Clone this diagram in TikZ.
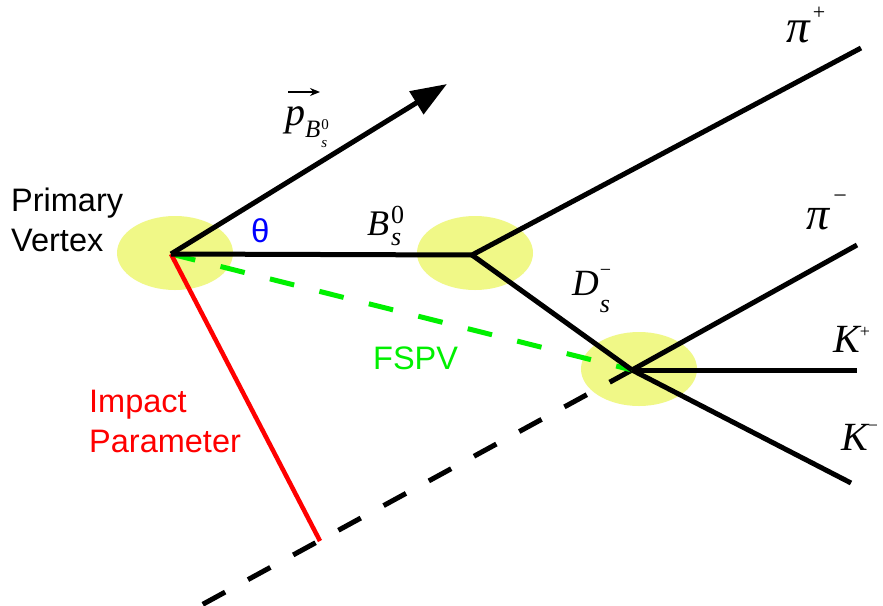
\documentclass[tikz,border=0pt]{standalone}
\usepackage{fontspec}
\setmainfont{Liberation Sans}
\newfontfamily\tms{Liberation Serif}
\usetikzlibrary{arrows.meta,shapes.geometric}
\newcommand\fsz[1]{\fontsize{#1}{#1}\selectfont}
\definecolor{vtx}{RGB}{240,248,135}
\definecolor{fgreen}{RGB}{0,240,0}
\begin{document}
\begin{tikzpicture}[x=1pt,y=-1pt,
  blob/.style={ellipse, fill=vtx, draw=none, inner sep=0pt, minimum width=116pt, minimum height=74pt},
  track/.style={line width=5pt, black},
  lbl/.style={inner sep=0pt, anchor=base west},
  sans/.style={font=\fsz{32.5}}]
\useasboundingbox (0,0) rectangle (883,605);
\clip (0,0) rectangle (883,605);
\fill[white] (0,0) rectangle (883,605);
% vertex blobs
\node[blob] (pvblob) at (175,253) {};
\node[blob] (bvblob) at (475,253) {};
\node[blob] (dvblob) at (639,369) {};
% points
\coordinate (pv) at (171,254);
\coordinate (bv) at (472,255);
\coordinate (dv) at (632,370);
\coordinate (pip) at (861,48);
\coordinate (pim) at (857,245);
\coordinate (kp) at (857,370);
\coordinate (km) at (851,483);
\coordinate (ptip) at (447,84);
\coordinate (ipfoot) at (320,541);
\coordinate (far) at (174,620);
% dashed lines
\draw[line width=5pt, dash pattern=on 25.5pt off 26pt] (dv) -- (far);
\draw[fgreen, line width=5pt, dash pattern=on 25pt off 26pt] (pv) -- (dv);
% impact parameter
\draw[red, line width=4.5pt] (pv) -- (ipfoot);
% tracks
\draw[track] (pv) -- (bv);
\draw[track] (bv) -- (pip);
\draw[track] (bv) -- (dv);
\draw[track] (dv) -- (pim);
\draw[track] (dv) -- (kp);
\draw[track] (dv) -- (km);
\draw[track, -{Triangle[length=36pt,width=26pt]}] (pv) -- (ptip);
% labels
\node[lbl, sans] (prim) at (11,211) {Primary};
\node[lbl, sans] (vert) at (11,251) {Vertex};
\node[lbl, sans, text=red] (imp) at (89,412) {Impact};
\node[lbl, sans, text=red] (par) at (89,452) {Parameter};
\node[lbl, sans, text=fgreen] (fspv) at (373,369) {FSPV};
\node[lbl, font=\fsz{33}, text=blue] (theta) at (251,242) {θ};
\node[lbl] (blabel) at (367,235) {\tms\fsz{36}\itshape B\kern2pt\rlap{\raisebox{-10pt}{\fsz{26}s}}\raisebox{12pt}{\fsz{26}\upshape 0}};
\node[lbl] (dlabel) at (572,295) {\tms\fsz{37}\itshape D\kern1pt\rlap{\raisebox{-17pt}{\fsz{26}s}}\raisebox{19pt}{\fsz{20}\upshape −}};
\node[lbl] (plabel) at (285,125) {\tms\fsz{40}\itshape p\raisebox{-12pt}{\fsz{25}B}\kern1pt\rlap{\raisebox{-22pt}{\fsz{15}s}}\raisebox{-4pt}{\fsz{15}\upshape 0}};
\draw[line width=1.3pt, -{Stealth[length=10pt,width=8pt]}] ([shift={(3,-33)}]plabel.base west) -- ++(32,0);
\node[lbl] (piplus) at (786,42) {\tms\fsz{47}\itshape π\kern3pt\raisebox{23pt}{\fsz{22}\upshape +}};
\node[lbl] (piminus) at (806,229) {\tms\fsz{46}\itshape π\kern4pt\raisebox{26pt}{\fsz{24}\upshape −}};
\node[lbl] (kplus) at (833,352) {\tms\fsz{40}\itshape K\raisebox{15pt}{\fsz{18}\upshape +}};
\node[lbl] (kminus) at (841,450) {\tms\fsz{40}\itshape K\raisebox{19pt}{\fsz{18}\upshape −}};
\end{tikzpicture}
\end{document}
